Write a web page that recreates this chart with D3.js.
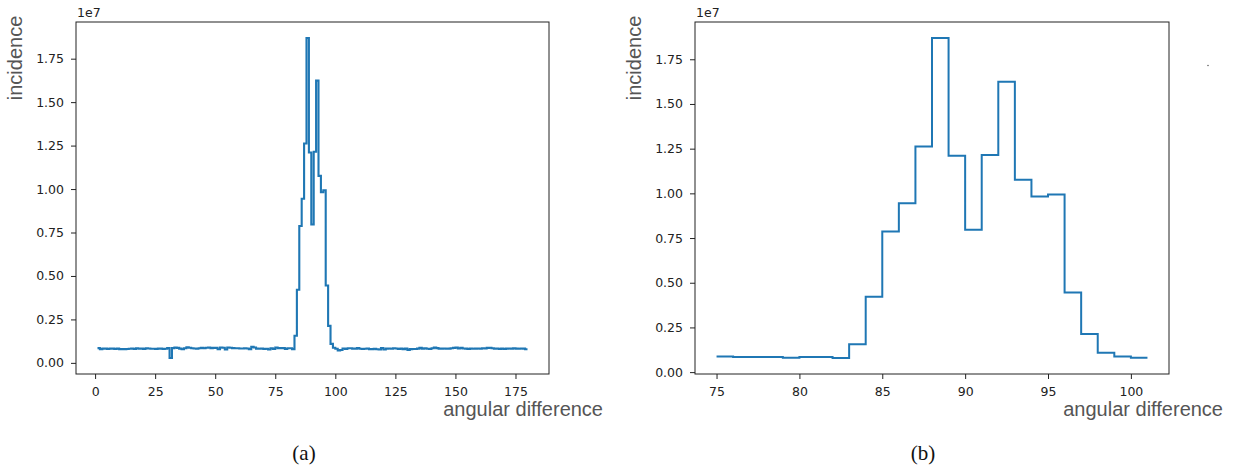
<!DOCTYPE html>
<html>
<head>
<meta charset="utf-8">
<script src="https://cdn.jsdelivr.net/npm/d3@7"></script>
<style>
  body { margin: 0; background: #fff; }
  .tick text { font-family: "DejaVu Sans", sans-serif; font-size: 12.5px; fill: #222; }
  .tick line { stroke: #222; }
  .domain { display: none; }
</style>
</head>
<body>
<div id="chart"></div>
<script>
// incidence per 1-degree bin, in units of 1e7
var lowStart = 1;
var lowValues = [0.085, 0.079, 0.082, 0.082, 0.080, 0.083, 0.082, 0.080, 0.083, 0.079,
    0.079, 0.079, 0.080, 0.081, 0.083, 0.080, 0.084, 0.081, 0.082, 0.080,
    0.084, 0.083, 0.081, 0.081, 0.080, 0.082, 0.083, 0.080, 0.081, 0.085,
    0.028, 0.085, 0.088, 0.086, 0.082, 0.078, 0.084, 0.089, 0.087, 0.084,
    0.083, 0.081, 0.084, 0.086, 0.084, 0.087, 0.088, 0.085, 0.086, 0.086,
    0.078, 0.088, 0.087, 0.077, 0.088, 0.087, 0.085, 0.084, 0.084, 0.083,
    0.083, 0.084, 0.083, 0.079, 0.092, 0.088, 0.082, 0.081, 0.083, 0.080,
    0.081, 0.077, 0.084, 0.080];

var peakStart = 75;
var peakValues = [0.088, 0.085, 0.085, 0.085, 0.080, 0.084, 0.084, 0.079, 0.156, 0.421,
    0.787, 0.944, 1.262, 1.869, 1.210, 0.796, 1.215, 1.624, 1.076, 0.982,
    0.993, 0.445, 0.213, 0.109, 0.087, 0.081];

var highValues = [0.072, 0.074, 0.083, 0.080, 0.084, 0.084, 0.082, 0.082, 0.085, 0.081,
    0.080, 0.081, 0.083, 0.079, 0.079, 0.081, 0.078, 0.077, 0.085, 0.077,
    0.082, 0.083, 0.081, 0.084, 0.083, 0.080, 0.082, 0.079, 0.082, 0.075,
    0.079, 0.080, 0.080, 0.082, 0.086, 0.082, 0.084, 0.081, 0.080, 0.084,
    0.088, 0.085, 0.081, 0.082, 0.083, 0.081, 0.082, 0.084, 0.086, 0.088,
    0.083, 0.086, 0.083, 0.082, 0.080, 0.082, 0.081, 0.082, 0.083, 0.081,
    0.084, 0.083, 0.086, 0.087, 0.084, 0.082, 0.083, 0.080, 0.082, 0.080,
    0.082, 0.083, 0.082, 0.084, 0.082, 0.081, 0.083, 0.082, 0.078];

var fullTicksX = [0, 25, 50, 75, 100, 125, 150, 175];
var zoomTicksX = [75, 80, 85, 90, 95, 100];
var ticksY = [0, 0.25, 0.5, 0.75, 1.0, 1.25, 1.5, 1.75];

var width = 1239, height = 469;

var svg = d3.select("#chart").append("svg")
    .attr("width", width)
    .attr("height", height);

// turn bins into step points (post), closing with the right edge of the last bin
function toSteps(start, values) {
    var pts = values.map(function(v, i) { return { x: start + i, y: v }; });
    pts.push({ x: start + values.length, y: values[values.length - 1] });
    return pts;
}

function padded(ext) {
    var m = (ext[1] - ext[0]) * 0.05;
    return [ext[0] - m, ext[1] + m];
}

function panel(box, data, xticks, caption, lw) {
    var w = box.right - box.left, h = box.bottom - box.top;
    var g = svg.append("g").attr("transform", "translate(" + box.left + "," + box.top + ")");

    var x = d3.scaleLinear().domain(padded(d3.extent(data, function(d) { return d.x; }))).range([0, w]);
    var y = d3.scaleLinear().domain(padded(d3.extent(data, function(d) { return d.y; }))).range([h, 0]);

    g.append("g")
        .attr("transform", "translate(0," + h + ")")
        .call(d3.axisBottom(x).tickValues(xticks).tickSize(5).tickPadding(8).tickFormat(d3.format("d")));

    g.append("g")
        .call(d3.axisLeft(y).tickValues(ticksY).tickSize(5).tickPadding(7).tickFormat(d3.format(".2f")));

    var line = d3.line()
        .curve(d3.curveStepAfter)
        .x(function(d) { return x(d.x); })
        .y(function(d) { return y(d.y); });

    g.append("path")
        .datum(data)
        .attr("d", line)
        .attr("fill", "none")
        .attr("stroke", "#1f77b4")
        .attr("stroke-width", lw);

    g.append("rect")
        .attr("x", 0).attr("y", 0)
        .attr("width", w).attr("height", h)
        .attr("fill", "none")
        .attr("stroke", "#222")
        .attr("stroke-width", 1);

    g.append("text")
        .attr("x", 1).attr("y", -5)
        .attr("font-family", "DejaVu Sans, sans-serif")
        .attr("font-size", 12.5)
        .attr("fill", "#222")
        .text("1e7");

    svg.append("text")
        .attr("transform", "translate(" + (box.left - 54) + "," + (box.top + 36) + ") rotate(-90)")
        .attr("text-anchor", "middle")
        .attr("font-family", "Liberation Sans, Arial, sans-serif")
        .attr("font-size", 20)
        .attr("fill", "#555")
        .text("incidence");

    svg.append("text")
        .attr("x", box.right + 54).attr("y", 416)
        .attr("text-anchor", "end")
        .attr("font-family", "Liberation Sans, Arial, sans-serif")
        .attr("font-size", 20)
        .attr("fill", "#555")
        .text("angular difference");

    svg.append("text")
        .attr("x", caption.x).attr("y", 460)
        .attr("text-anchor", "middle")
        .attr("font-family", "Liberation Serif, Times New Roman, serif")
        .attr("font-size", 21)
        .attr("fill", "#111")
        .text(caption.text);
}

var fullData = toSteps(lowStart, lowValues.concat(peakValues, highValues));
var zoomData = toSteps(peakStart, peakValues);

panel({ left: 76, right: 549, top: 22, bottom: 374 }, fullData, fullTicksX, { x: 304, text: "(a)" }, 2.1);
panel({ left: 695, right: 1169, top: 22, bottom: 374 }, zoomData, zoomTicksX, { x: 923, text: "(b)" }, 2);

// stray speck to the right of panel (b)
svg.append("circle")
    .attr("cx", 1208).attr("cy", 65.5).attr("r", 0.8)
    .attr("fill", "#666");
</script>
</body>
</html>
